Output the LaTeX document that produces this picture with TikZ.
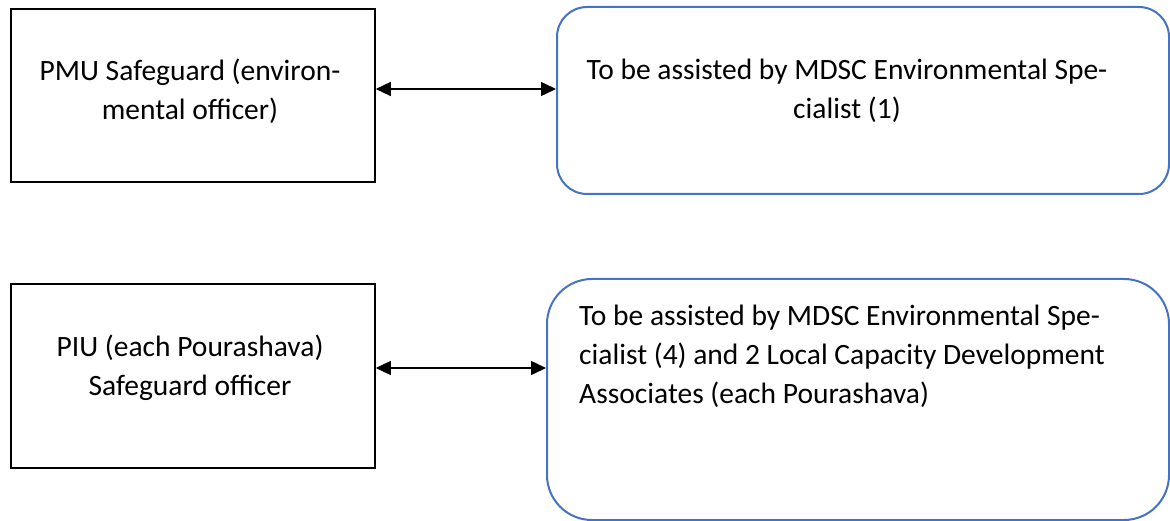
\documentclass[tikz,border=0pt]{standalone}
\usepackage{fontspec}
\setmainfont{Carlito}
\usetikzlibrary{arrows.meta}
\definecolor{boxblue}{HTML}{4472C4}
\begin{document}
\begin{tikzpicture}[x=1pt,y=-1pt,
  sqbox/.style={draw=black,line width=1.8pt,inner sep=0pt,anchor=north west},
  rbox/.style={draw=boxblue,line width=2pt,inner sep=0pt,anchor=north west,rounded corners=#1},
  lbl/.style={font=\fontsize{29.5}{39}\selectfont,inner sep=0pt},
  link/.style={line width=1.5pt,{Triangle[length=15pt,width=14pt]}-{Triangle[length=15pt,width=14pt]}}]
\useasboundingbox (0,0) rectangle (1170,521);
\node[sqbox,minimum width=364pt,minimum height=173pt] (b1) at (10,8) {};
\node[rbox=30pt,minimum width=612pt,minimum height=187pt] (b2) at (556,6) {};
\node[sqbox,minimum width=364pt,minimum height=184pt] (b3) at (10,283) {};
\node[rbox=45pt,minimum width=622pt,minimum height=241pt] (b4) at (546,278) {};
\draw[link] (b1.east |- 0,89) -- (b2.west |- 0,89);
\draw[link] (b3.east |- 0,368) -- (b4.west |- 0,368);
\node[lbl,align=center] (t1) at (190,91) {PMU Safeguard (environ-\\mental officer)};
\node[lbl,align=center] (t2) at (847,91) {To be assisted by MDSC Environmental Spe-\\cialist (1)};
\node[lbl,align=center] (t3) at (190,368) {PIU (each Pourashava)\\Safeguard officer};
\node[lbl,align=left,anchor=north west] (t4) at (579,305) {To be assisted by MDSC Environmental Spe-\\cialist (4) and 2 Local Capacity Development\\Associates (each Pourashava)};
\end{tikzpicture}
\end{document}
